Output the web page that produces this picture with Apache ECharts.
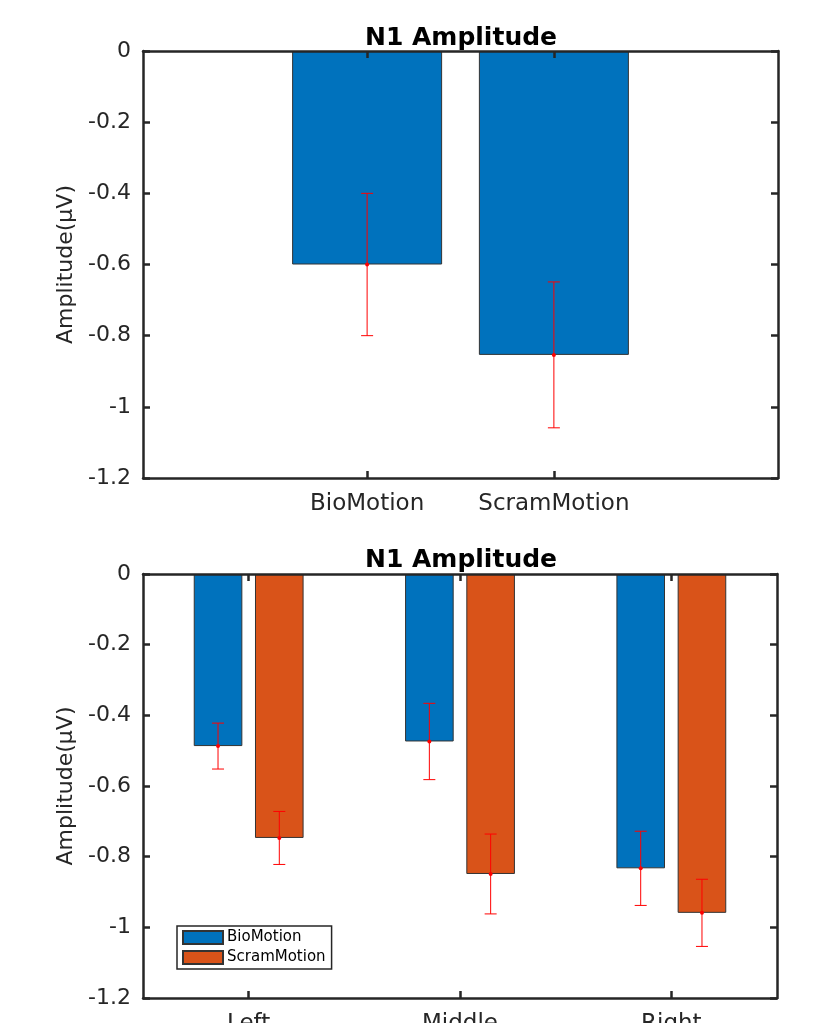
<!DOCTYPE html>
<html>
<head>
<meta charset="utf-8">
<title>N1 Amplitude</title>
<script src="https://cdn.jsdelivr.net/npm/echarts@6/dist/echarts.min.js"></script>
<style>
html, body { margin: 0; padding: 0; background: #fff; overflow: hidden; }
#chart { width: 813px; height: 1023px; }
</style>
</head>
<body>
<div id="chart"></div>
<script>
// 数据
var topCats = ['BioMotion', 'ScramMotion'];
var topMeans = [-0.60, -0.854];
var topErr = [0.20, 0.205];

var groupCats = ['Left', 'Middle', 'Right'];
var bioMeans = [-0.487, -0.474, -0.833];
var bioErr = [0.065, 0.108, 0.105];
var scramMeans = [-0.747, -0.849, -0.959];
var scramErr = [0.075, 0.113, 0.095];

var yMin = -1.2, yMax = 0, yStep = 0.2;
var seriesNames = ['BioMotion', 'ScramMotion'];

var BLUE = '#0072BD', ORANGE = '#D95319', AX = '#262626';
var FONT = 'DejaVu Sans';

// 误差线
function errRender(shift) {
	return function (params, api) {
		var x = api.value(0);
		var lo = api.coord([x, api.value(1)]);
		var hi = api.coord([x, api.value(2)]);
		var m = api.coord([x, api.value(3)]);
		var dx = shift ? shift * api.size([1, 0])[0] : 0;
		var cx = lo[0] + dx, cap = 6;
		var st = { stroke: '#ff0000', lineWidth: 1 };
		return {
			type: 'group',
			children: [
				{ type: 'line', shape: { x1: cx, y1: lo[1], x2: cx, y2: hi[1] }, style: st },
				{ type: 'line', shape: { x1: cx - cap, y1: lo[1], x2: cx + cap, y2: lo[1] }, style: st },
				{ type: 'line', shape: { x1: cx - cap, y1: hi[1], x2: cx + cap, y2: hi[1] }, style: st },
				{ type: 'circle', shape: { cx: cx, cy: m[1], r: 2 }, style: { fill: '#ff0000' } }
			]
		};
	};
}

function errData(xs, means, errs) {
	return means.map(function (v, i) { return [xs[i], v - errs[i], v + errs[i], v]; });
}

function yAxisPair(gi) {
	var base = {
		type: 'value', gridIndex: gi, min: yMin, max: yMax, interval: yStep, z: 10,
		axisLine: { show: true, onZero: false, lineStyle: { color: AX, width: 2.5 } },
		axisTick: { show: true, inside: true, length: 7, lineStyle: { color: AX, width: 2.5 } },
		splitLine: { show: false }
	};
	var left = Object.assign({}, base, {
		position: 'left',
		name: 'Amplitude(μV)', nameLocation: 'middle', nameRotate: 90, nameGap: 63,
		nameTextStyle: { fontFamily: FONT, fontSize: 22, color: AX },
		axisLabel: { margin: 12, fontFamily: FONT, fontSize: 22, color: AX }
	});
	var right = Object.assign({}, base, { position: 'right', axisLabel: { show: false } });
	return [left, right];
}

var topX = topCats.map(function (c, i) { return i + 1; });

var axTick = { show: true, inside: true, length: 7, lineStyle: { color: AX, width: 2.5 } };
var axLine = { show: true, onZero: false, lineStyle: { color: AX, width: 2.5 } };

var option = {
	animation: false,
	backgroundColor: '#fff',
	title: [
		{ text: 'N1 Amplitude', left: 456, top: 21, textAlign: 'center',
			textStyle: { fontFamily: FONT, fontSize: 25, fontWeight: 'bold', color: '#000' } },
		{ text: 'N1 Amplitude', left: 456, top: 543, textAlign: 'center',
			textStyle: { fontFamily: FONT, fontSize: 25, fontWeight: 'bold', color: '#000' } }
	],
	grid: [
		{ left: 143, right: 35, top: 51, height: 427, outerBoundsMode: 'none' },
		{ left: 143, right: 36, top: 574, height: 424, outerBoundsMode: 'none' }
	],
	legend: {
		data: seriesNames,
		orient: 'vertical', left: 177, top: 926,
		itemWidth: 40, itemHeight: 13, itemGap: 5,
		padding: [4, 6, 4, 5],
		borderColor: AX, borderWidth: 1.5, backgroundColor: '#fff',
		icon: 'rect',
		textStyle: { fontFamily: FONT, fontSize: 15, color: '#000', padding: [0, 0, 0, -1] }
	},
	xAxis: [
		{
			type: 'value', gridIndex: 0, position: 'bottom', min: -0.2, max: 3.2, z: 10,
			axisLine: axLine, axisTick: Object.assign({ customValues: topX }, axTick),
			splitLine: { show: false },
			axisLabel: {
				customValues: topX, margin: 15, fontFamily: FONT, fontSize: 23, color: AX,
				formatter: function (v) { return topCats[Math.round(v) - 1] || ''; }
			}
		},
		{
			type: 'value', gridIndex: 0, position: 'top', min: -0.2, max: 3.2, z: 10,
			axisLine: axLine, axisTick: Object.assign({ customValues: topX }, axTick),
			splitLine: { show: false }, axisLabel: { show: false }
		},
		{
			type: 'category', gridIndex: 1, position: 'bottom', data: groupCats, z: 10,
			axisLine: axLine, axisTick: Object.assign({ alignWithLabel: true }, axTick),
			axisLabel: { margin: 15, fontFamily: FONT, fontSize: 23, color: AX }
		},
		{
			type: 'category', gridIndex: 1, position: 'top', data: groupCats, z: 10,
			axisLine: axLine, axisTick: Object.assign({ alignWithLabel: true }, axTick),
			axisLabel: { show: false }
		}
	],
	yAxis: yAxisPair(0).concat(yAxisPair(1)),
	series: [
		{
			type: 'bar', xAxisIndex: 0, yAxisIndex: 0, barWidth: 150,
			data: topMeans.map(function (v, i) { return [topX[i], v]; }),
			itemStyle: { color: BLUE, borderColor: '#333', borderWidth: 1 }
		},
		{
			type: 'custom', xAxisIndex: 0, yAxisIndex: 0, z: 5,
			renderItem: errRender(0),
			encode: { x: 0, y: [1, 2, 3] },
			data: errData(topX, topMeans, topErr)
		},
		{
			name: seriesNames[0], type: 'bar', xAxisIndex: 2, yAxisIndex: 2,
			barWidth: '23%', barGap: '26%', data: bioMeans,
			itemStyle: { color: BLUE, borderColor: '#333', borderWidth: 1 }
		},
		{
			name: seriesNames[1], type: 'bar', xAxisIndex: 2, yAxisIndex: 2,
			barWidth: '23%', barGap: '26%', data: scramMeans,
			itemStyle: { color: ORANGE, borderColor: '#333', borderWidth: 1 }
		},
		{
			type: 'custom', xAxisIndex: 2, yAxisIndex: 2, z: 5,
			renderItem: errRender(-0.145),
			encode: { x: 0, y: [1, 2, 3] },
			data: errData([0, 1, 2], bioMeans, bioErr)
		},
		{
			type: 'custom', xAxisIndex: 2, yAxisIndex: 2, z: 5,
			renderItem: errRender(0.145),
			encode: { x: 0, y: [1, 2, 3] },
			data: errData([0, 1, 2], scramMeans, scramErr)
		}
	]
};

var chart = echarts.init(document.getElementById('chart'));
chart.setOption(option);
</script>
</body>
</html>
